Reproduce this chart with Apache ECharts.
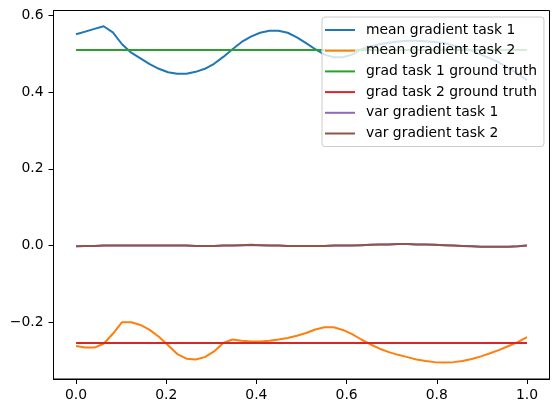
<!DOCTYPE html>
<html>
<head>
<meta charset="utf-8">
<script src="https://cdn.jsdelivr.net/npm/echarts@6/dist/echarts.min.js"></script>
<style>
  html, body { margin: 0; padding: 0; background: #fff; }
  #chart { width: 559px; height: 413px; }
</style>
</head>
<body>
<div id="chart"></div>
<script>
// x positions of the samples
const xs = [0, 0.0204, 0.0408, 0.0612, 0.0816, 0.1020, 0.1224, 0.1429, 0.1633, 0.1837,
  0.2041, 0.2245, 0.2449, 0.2653, 0.2857, 0.3061, 0.3265, 0.3469, 0.3673, 0.3878,
  0.4082, 0.4286, 0.4490, 0.4694, 0.4898, 0.5102, 0.5306, 0.5510, 0.5714, 0.5918,
  0.6122, 0.6327, 0.6531, 0.6735, 0.6939, 0.7143, 0.7347, 0.7551, 0.7755, 0.7959,
  0.8163, 0.8367, 0.8571, 0.8776, 0.8980, 0.9184, 0.9388, 0.9592, 0.9796, 1];

const meanTask1 = [0.551, 0.558, 0.565, 0.572, 0.556, 0.525, 0.503, 0.488, 0.473, 0.461,
  0.452, 0.448, 0.448, 0.453, 0.461, 0.474, 0.492, 0.512, 0.531, 0.545,
  0.555, 0.560, 0.560, 0.555, 0.543, 0.528, 0.512, 0.498, 0.491, 0.491,
  0.498, 0.512, 0.519, 0.525, 0.529, 0.532, 0.534, 0.534, 0.533, 0.531,
  0.528, 0.522, 0.516, 0.508, 0.498, 0.488, 0.477, 0.463, 0.448, 0.431];

const meanTask2 = [-0.262, -0.266, -0.266, -0.256, -0.230, -0.200, -0.200, -0.207, -0.220, -0.238,
  -0.260, -0.283, -0.295, -0.297, -0.291, -0.276, -0.254, -0.245, -0.248, -0.250,
  -0.250, -0.248, -0.245, -0.241, -0.235, -0.228, -0.219, -0.213, -0.213, -0.220,
  -0.231, -0.245, -0.258, -0.269, -0.278, -0.285, -0.291, -0.297, -0.301, -0.304,
  -0.305, -0.304, -0.301, -0.296, -0.289, -0.281, -0.272, -0.262, -0.252, -0.239];

const varTask1 = [-0.002, -0.001, -0.001, 0, 0, 0, 0, 0, 0, 0,
  0, 0, 0, -0.001, -0.001, -0.001, 0, 0, 0.001, 0.001,
  0.001, 0, 0, -0.001, -0.001, -0.001, -0.001, -0.001, 0, 0,
  0, 0.001, 0.002, 0.003, 0.003, 0.004, 0.004, 0.003, 0.003, 0.002,
  0.001, 0, -0.001, -0.002, -0.003, -0.003, -0.003, -0.003, -0.002, 0];

const varTask2 = [-0.002, -0.001, -0.001, 0, 0, 0, 0, 0, 0, 0,
  0, 0, 0, -0.001, -0.001, -0.001, 0, 0, 0.001, 0.002,
  0.001, 0, 0, -0.001, -0.001, -0.001, -0.001, -0.001, 0, 0,
  0, 0.001, 0.002, 0.003, 0.003, 0.004, 0.004, 0.003, 0.003, 0.002,
  0.001, 0, -0.001, -0.002, -0.003, -0.003, -0.003, -0.003, -0.002, 0];

const gtX = [0, 1];
const gtTask1 = [0.51, 0.51];
const gtTask2 = [-0.254, -0.254];

const xTicks = [0, 0.2, 0.4, 0.6, 0.8, 1.0];
const yTicks = [-0.2, 0, 0.2, 0.4, 0.6];

const names = ["mean gradient task 1", "mean gradient task 2", "grad task 1 ground truth",
  "grad task 2 ground truth", "var gradient task 1", "var gradient task 2"];
const colors = ["#1f77b4", "#ff7f0e", "#2ca02c", "#d62728", "#9467bd", "#8c564b"];

function pairs(x, y) {
  return y.map((v, i) => [x[i], v]);
}

function fmt(v) {
  return v.toFixed(1).replace("-", "\u2212");
}

const seriesData = [
  pairs(xs, meanTask1),
  pairs(xs, meanTask2),
  pairs(gtX, gtTask1),
  pairs(gtX, gtTask2),
  pairs(xs, varTask1),
  pairs(xs, varTask2),
];

const font = "DejaVu Sans";

const option = {
  animation: false,
  backgroundColor: "#ffffff",
  color: colors,
  textStyle: { fontFamily: font },
  grid: {
    left: 53.5,
    right: 9.5,
    top: 10.5,
    bottom: 34,
    show: true,
    borderColor: "#000000",
    borderWidth: 1,
    backgroundColor: "transparent",
  },
  xAxis: {
    type: "value",
    min: -0.05,
    max: 1.05,
    splitLine: { show: false },
    axisLine: { show: true, onZero: false, lineStyle: { color: "#000", width: 1 } },
    axisTick: { show: true, length: 5, lineStyle: { color: "#000", width: 1 }, customValues: xTicks },
    axisLabel: {
      customValues: xTicks,
      formatter: fmt,
      color: "#000",
      fontSize: 13.9,
      fontFamily: font,
      margin: 9,
    },
  },
  yAxis: {
    type: "value",
    min: -0.348,
    max: 0.613,
    splitLine: { show: false },
    axisLine: { show: true, onZero: false, lineStyle: { color: "#000", width: 1 } },
    axisTick: { show: true, length: 5, lineStyle: { color: "#000", width: 1 }, customValues: yTicks },
    axisLabel: {
      customValues: yTicks,
      formatter: fmt,
      color: "#000",
      fontSize: 13.9,
      fontFamily: font,
      margin: 10,
    },
  },
  legend: {
    orient: "vertical",
    left: 322,
    top: 17,
    padding: [6, 7, 6, 3],
    itemGap: 6.7,
    itemWidth: 30,
    itemHeight: 2,
    icon: "rect",
    backgroundColor: "rgba(255,255,255,0.8)",
    borderColor: "#cccccc",
    borderWidth: 1,
    borderRadius: 3,
    data: names,
    textStyle: {
      fontFamily: font,
      fontSize: 13.9,
      color: "#000",
      lineHeight: 14,
      padding: [0, 0, 0, 6],
    },
  },
  series: names.map((name, i) => ({
    name: name,
    type: "line",
    data: seriesData[i],
    symbol: "none",
    lineStyle: { width: 2, color: colors[i] },
    itemStyle: { color: colors[i] },
  })),
};

const chart = echarts.init(document.getElementById("chart"));
chart.setOption(option);
</script>
</body>
</html>
